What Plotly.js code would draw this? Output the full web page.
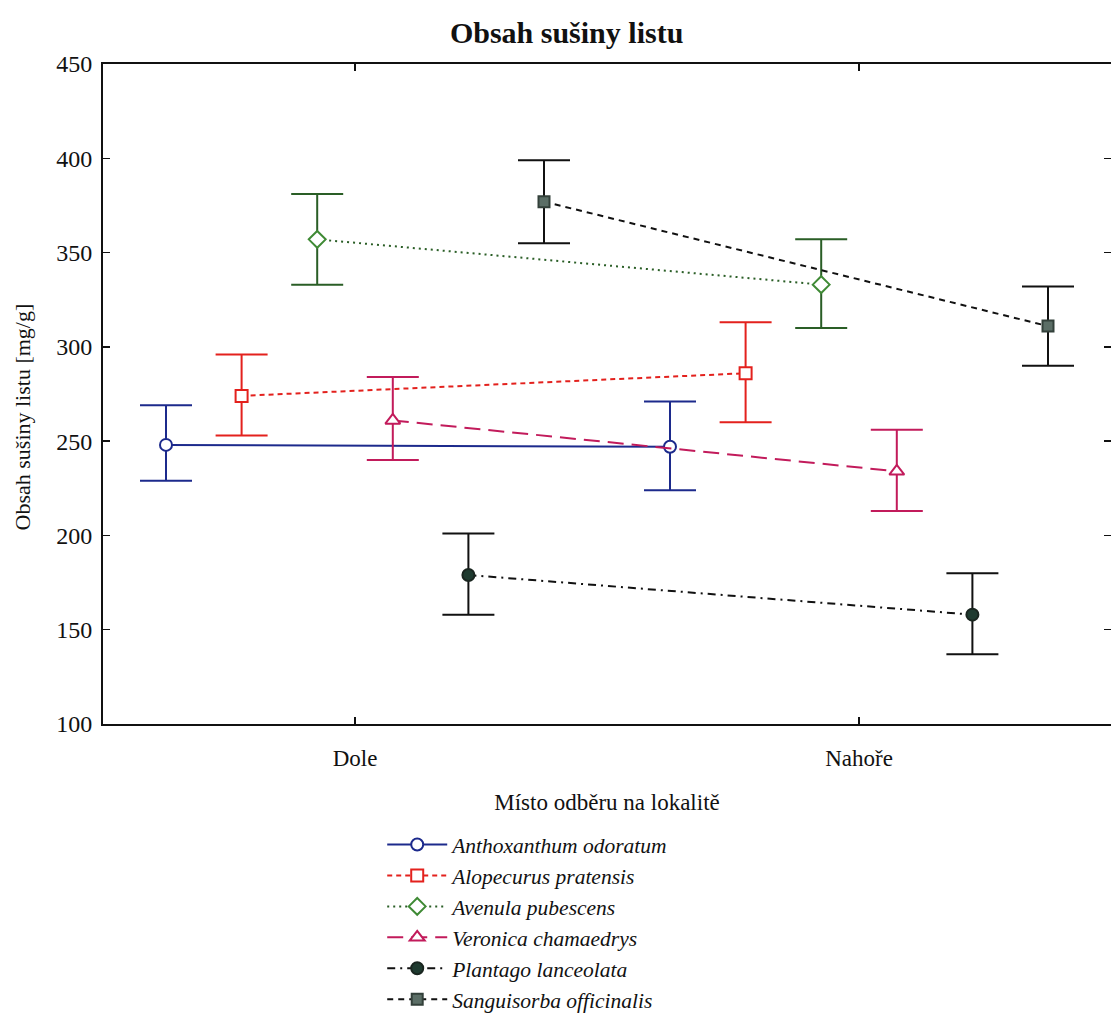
<!DOCTYPE html>
<html>
<head>
<meta charset="utf-8">
<script src="https://cdn.plot.ly/plotly-3.0.1.min.js"></script>
<style>html,body{margin:0;padding:0;background:#fff;} #chart{width:1111px;height:1020px;}</style>
</head>
<body>
<div id="chart"></div>
<script>
// ---- data ----
const categories = ['Dole', 'Nahoře'];
const species = ['Anthoxanthum odoratum', 'Alopecurus pratensis', 'Avenula pubescens',
                 'Veronica chamaedrys', 'Plantago lanceolata', 'Sanguisorba officinalis'];

const anthoxMean  = [248, 247];
const anthoxLow   = [229, 224];
const anthoxHigh  = [269, 271];

const alopecMean  = [274, 286];
const alopecLow   = [253, 260];
const alopecHigh  = [296, 313];

const avenulaMean = [357, 333];
const avenulaLow  = [333, 310];
const avenulaHigh = [381, 357];

const veronMean   = [261, 234];
const veronLow    = [240, 213];
const veronHigh   = [284, 256];

const plantMean   = [179, 158];
const plantLow    = [158, 137];
const plantHigh   = [201, 180];

const sangMean    = [377, 311];
const sangLow     = [355, 290];
const sangHigh    = [399, 332];

const yTicks = [100, 150, 200, 250, 300, 350, 400, 450];

// ---- styles ----
const SERIF = '"Liberation Serif", "Times New Roman", serif';
const groupOffset = [-0.375, -0.225, -0.075, 0.075, 0.225, 0.375];
const styles = [
  {color: '#1c2a8c', dash: 'solid',           symbol: 'circle',      fill: '#ffffff', size: 12, edge: '#1c2a8c'},
  {color: '#e3211d', dash: '5px,4px',         symbol: 'square',      fill: '#ffffff', size: 12, edge: '#e3211d'},
  {color: '#2a5e26', dash: '2px,4px',         symbol: 'diamond',     fill: '#ffffff', size: 13, edge: '#3f8a35'},
  {color: '#c21b5b', dash: '16px,8px',        symbol: 'triangle-up', fill: '#ffffff', size: 13, edge: '#c21b5b'},
  {color: '#111111', dash: '8px,5px,2px,5px', symbol: 'circle',      fill: '#1f3b30', size: 12, edge: '#1a2620'},
  {color: '#111111', dash: '6px,5px',         symbol: 'square',      fill: '#5b6e66', size: 11, edge: '#33403a'}
];

const series = [
  [anthoxMean, anthoxLow, anthoxHigh],
  [alopecMean, alopecLow, alopecHigh],
  [avenulaMean, avenulaLow, avenulaHigh],
  [veronMean, veronLow, veronHigh],
  [plantMean, plantLow, plantHigh],
  [sangMean, sangLow, sangHigh]
];

const traces = series.map((s, i) => {
  const [mean, low, high] = s;
  const st = styles[i];
  return {
    type: 'scatter',
    mode: 'lines+markers',
    name: '<i>' + species[i] + '</i>',
    x: categories.map((c, k) => k + groupOffset[i]),
    y: mean,
    line: {color: st.color, width: 2, dash: st.dash},
    marker: {symbol: st.symbol, size: st.size, color: st.fill, line: {color: st.edge, width: 2}},
    error_y: {
      type: 'data', symmetric: false,
      array: high.map((h, k) => h - mean[k]),
      arrayminus: low.map((l, k) => mean[k] - l),
      color: st.color, thickness: 2, width: 26
    },
    cliponaxis: false
  };
});

const layout = {
  width: 1111, height: 1020,
  paper_bgcolor: '#ffffff', plot_bgcolor: '#ffffff',
  margin: {l: 103, r: 0, t: 64, b: 289},
  font: {family: SERIF, color: '#111111', size: 20},
  title: {
    text: '<b>Obsah sušiny listu</b>',
    font: {family: SERIF, size: 30, color: '#111111'},
    x: 0.51, xanchor: 'center', xref: 'container', y: 0.968, yanchor: 'middle'
  },
  xaxis: {
    range: [-0.5, 1.5],
    tickmode: 'array', tickvals: categories.map((c, k) => k), ticktext: categories,
    showgrid: false, zeroline: false,
    showline: true, linecolor: '#111111', linewidth: 2, mirror: 'ticks',
    ticks: 'inside', ticklen: 7, tickwidth: 1.5, tickcolor: '#111111',
    tickfont: {family: SERIF, size: 23}, ticklabelstandoff: 12,
    title: {text: 'Místo odběru na lokalitě', font: {family: SERIF, size: 23}, standoff: 24}
  },
  yaxis: {
    range: [100, 450],
    tickmode: 'array', tickvals: yTicks,
    showgrid: false, zeroline: false,
    showline: true, linecolor: '#111111', linewidth: 2, mirror: 'ticks',
    ticks: 'inside', ticklen: 7, tickwidth: 1.5, tickcolor: '#111111',
    tickfont: {family: SERIF, size: 24}, ticklabelstandoff: 4
  },
  annotations: [{
    text: 'Obsah sušiny listu [mg/g]', textangle: -90,
    xref: 'paper', yref: 'paper', x: -0.08, y: 0.465, xanchor: 'center', yanchor: 'middle',
    showarrow: false, font: {family: SERIF, size: 22, color: '#111111'}
  }],
  showlegend: true,
  legend: {
    x: 0.277, xanchor: 'left', y: -0.152, yanchor: 'top',
    font: {family: SERIF, size: 21.5, color: '#111111'},
    bgcolor: 'rgba(0,0,0,0)', borderwidth: 0,
    tracegroupgap: 0, itemwidth: 60
  }
};

Plotly.newPlot('chart', traces, layout, {staticPlot: true, displayModeBar: false});
</script>
</body>
</html>
